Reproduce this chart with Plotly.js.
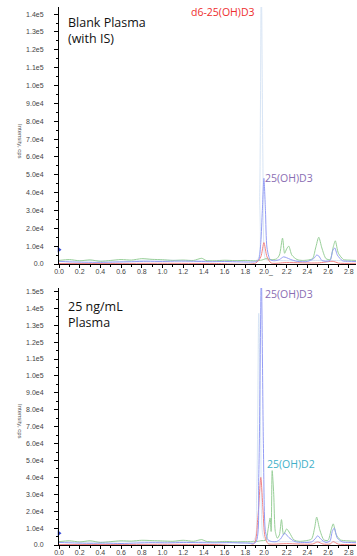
<!DOCTYPE html>
<html><head><meta charset="utf-8">
<script src="https://cdn.plot.ly/plotly-3.0.1.min.js"></script>
<style>html,body{margin:0;padding:0;background:#fff}#c{width:357px;height:556px}</style>
</head><body><div id="c"></div>
<script>
// ---- tick labels ----
const xTickVals = [0,0.2,0.4,0.6,0.8,1.0,1.2,1.4,1.6,1.8,2.0,2.2,2.4,2.6,2.8];
const xTickText = ["0.0","0.2","0.4","0.6","0.8","1.0","1.2","1.4","1.6","1.8","2.0_","2.2","2.4","2.6","2.8"];
const yTickValsTop = [0,1e4,2e4,3e4,4e4,5e4,6e4,7e4,8e4,9e4,1e5,1.1e5,1.2e5,1.3e5,1.4e5];
const yTickTextTop = ["0.0","1.0e4","2.0e4","3.0e4","4.0e4","5.0e4","6.0e4","7.0e4","8.0e4","9.0e4","1.0e5","1.1e5","1.2e5","1.3e5","1.4e5"];
const yTickValsBot = [0,1e4,2e4,3e4,4e4,5e4,6e4,7e4,8e4,9e4,1e5,1.1e5,1.2e5,1.3e5,1.4e5,1.5e5];
const yTickTextBot = ["0.0","1.0e4","2.0e4","3.0e4","4.0e4","5.0e4","6.0e4","7.0e4","8.0e4","9.0e4","1.0e5","1.1e5","1.2e5","1.3e5","1.4e5","1.5e5"];

// ---- top panel: Blank Plasma (with IS) ----
const topPaleX = [0,0.3,0.6,0.9,1.2,1.5,1.8,1.92,1.94,1.955,1.97,1.985,2.0,2.1,2.3,2.5,2.7,2.87];
const topPaleY = [1500,2000,1500,2200,2000,1800,2000,2500,40000,160000,60000,5000,2500,2000,1800,2000,1900,1800];
const topBlueX = [0,0.1,0.25,0.4,0.55,0.7,0.85,1.0,1.15,1.3,1.45,1.6,1.75,1.9,1.93,1.95,1.965,1.98,1.995,2.01,2.04,2.08,2.13,2.17,2.2,2.24,2.3,2.4,2.46,2.49,2.51,2.54,2.58,2.62,2.645,2.665,2.69,2.74,2.8,2.87];
const topBlueY = [1500,1200,1000,900,1100,1300,1500,1400,1600,1500,1300,1400,1200,1300,2500,12000,30000,48000,30000,9000,2500,1800,2500,4000,3500,2500,1500,1400,3000,5000,4500,2000,1500,2000,7500,9000,5000,1800,1500,1400];
const topRedX = [0,0.5,1.0,1.5,1.9,1.95,1.98,2.01,2.05,2.2,2.5,2.65,2.7,2.87];
const topRedY = [300,300,400,300,500,4000,12000,4000,600,800,600,1500,500,400];
const topGreenX = [0,0.1,0.2,0.3,0.4,0.5,0.6,0.7,0.8,0.9,1.0,1.1,1.2,1.3,1.38,1.42,1.5,1.6,1.7,1.8,1.9,1.96,2.0,2.05,2.1,2.13,2.16,2.18,2.2,2.22,2.25,2.3,2.35,2.4,2.45,2.48,2.51,2.54,2.58,2.62,2.65,2.67,2.7,2.75,2.8,2.87];
const topGreenY = [2000,2500,1800,2300,1500,2000,2500,2200,3000,2600,2400,2000,2200,2000,3200,2000,1800,2100,1900,2000,1800,2200,3000,2500,2800,5000,14500,6000,8500,10000,5000,2500,2000,2200,3000,9000,15000,9000,3000,2500,9500,13000,6000,2500,2200,2000];

// ---- bottom panel: 25 ng/mL Plasma ----
const botPaleX = [0,0.4,0.8,1.2,1.6,1.88,1.91,1.93,1.95,1.97,2.0,2.2,2.5,2.87];
const botPaleY = [2000,1800,2200,2000,1800,2500,30000,137000,60000,6000,2500,2000,2000,1800];
const botBlueX = [0,0.15,0.3,0.45,0.6,0.75,0.9,1.05,1.2,1.35,1.5,1.65,1.8,1.9,1.93,1.955,1.975,1.995,2.02,2.06,2.1,2.14,2.18,2.22,2.28,2.35,2.44,2.48,2.5,2.53,2.58,2.62,2.64,2.66,2.69,2.74,2.8,2.87];
const botBlueY = [1500,1200,1000,1100,900,1200,1400,1300,1500,1400,1300,1400,1200,1500,40000,160000,60000,8000,3000,2000,2000,3500,7000,4500,2000,1500,1800,4000,5500,3500,1500,2500,8000,10000,4000,1800,1500,1400];
const botRedX = [0,0.5,1.0,1.5,1.88,1.92,1.95,1.97,1.99,2.02,2.06,2.2,2.45,2.5,2.55,2.62,2.65,2.7,2.87];
const botRedY = [300,300,400,300,500,15000,40000,22000,5000,800,500,800,600,1800,600,600,2000,500,400];
const botGreenX = [0,0.1,0.2,0.3,0.4,0.5,0.6,0.7,0.8,0.9,1.0,1.1,1.2,1.3,1.38,1.42,1.5,1.6,1.7,1.8,1.9,1.95,2.0,2.02,2.04,2.05,2.06,2.075,2.09,2.11,2.13,2.15,2.17,2.2,2.23,2.27,2.32,2.38,2.44,2.47,2.49,2.52,2.56,2.6,2.63,2.65,2.68,2.72,2.78,2.87];
const botGreenY = [2000,2500,1800,2500,1500,2000,2500,2300,2800,2600,2400,2200,2800,2200,3200,2200,1800,2100,1900,2000,2000,2500,3000,9000,16000,8000,44000,30000,8000,4000,6000,15000,6000,9500,7000,3000,2200,2500,3500,10000,16500,9000,3000,2800,9000,12500,6000,3000,2500,2200];

// start-of-trace markers
const markerX = [0];
const markerYTop = [8000];
const markerYBot = [7000];

const C = {pale:"#d8e5f5", blue:"#949df5", red:"#f38484", green:"#98cf98"};
function tr(x,y,col,ax,w){return {x:x,y:y,type:"scatter",mode:"lines",line:{color:col,width:w||1,shape:"spline",smoothing:0.7},xaxis:ax==1?"x":"x2",yaxis:ax==1?"y":"y2",hoverinfo:"skip"};}
const data = [
  tr(topPaleX,topPaleY,C.pale,1), tr(topGreenX,topGreenY,C.green,1), tr(topRedX,topRedY,C.red,1), tr(topBlueX,topBlueY,C.blue,1),
  tr(botPaleX,botPaleY,C.pale,2), tr(botGreenX,botGreenY,C.green,2), tr(botRedX,botRedY,C.red,2), tr(botBlueX,botBlueY,C.blue,2),
  {x:markerX,y:markerYTop,type:"scatter",mode:"markers",marker:{symbol:"triangle-right",size:5,color:"#3347d6"},xaxis:"x",yaxis:"y",cliponaxis:false},
  {x:markerX,y:markerYBot,type:"scatter",mode:"markers",marker:{symbol:"triangle-right",size:5,color:"#3347d6"},xaxis:"x2",yaxis:"y2",cliponaxis:false}
];

const W=357,H=556;
const px=v=>v/W, py=v=>1-v/H;
const tickFont={family:"Liberation Sans, Arial, sans-serif",size:7,color:"#444"};
function xa(anchor){return {domain:[px(59),px(356)],range:[0,2.87],anchor:anchor,showline:true,linecolor:"#000",linewidth:1,
  ticks:"outside",ticklen:3,tickcolor:"#000",tickvals:xTickVals,ticktext:xTickText,tickfont:tickFont,ticklabelstandoff:-2,showgrid:false,zeroline:false,
  minor:{tickvals:[0.1,0.3,0.5,0.7,0.9,1.1,1.3,1.5,1.7,1.9,2.1,2.3,2.5,2.7],ticklen:2,tickcolor:"#000",ticks:"outside"},automargin:false,fixedrange:true};}
function ya(anchor,dom,rng,tv,tt){return {domain:dom,range:rng,anchor:anchor,showline:true,linecolor:"#000",linewidth:1,
  ticks:"outside",ticklen:4,tickcolor:"#000",tickvals:tv,ticktext:tt,tickfont:tickFont,ticklabelstandoff:9,showgrid:false,zeroline:false,
  minor:{dtick:5000,ticklen:2,tickcolor:"#000",ticks:"outside"},automargin:false,fixedrange:true};}

const annFont="Open Sans, Noto Sans, sans-serif";
const layout = {
  width:W,height:H,margin:{l:0,r:0,t:0,b:0},paper_bgcolor:"#fff",plot_bgcolor:"#fff",showlegend:false,
  xaxis:xa("y"), yaxis:ya("x",[py(264),py(7)],[0,144000],yTickValsTop,yTickTextTop),
  xaxis2:xa("y2"), yaxis2:ya("x2",[py(545),py(288)],[0,152000],yTickValsBot,yTickTextBot),
  annotations:[
    {xref:"paper",yref:"paper",x:px(66),y:py(12),xanchor:"left",yanchor:"top",align:"left",showarrow:false,text:"Blank Plasma<br>(with IS)",font:{family:annFont,size:12.5,color:"#111"}},
    {xref:"paper",yref:"paper",x:px(189),y:py(12),xanchor:"left",yanchor:"middle",showarrow:false,text:"d6-25(OH)D3",font:{family:annFont,size:10.5,color:"#ee2e2e"}},
    {xref:"paper",yref:"paper",x:px(263),y:py(178),xanchor:"left",yanchor:"middle",showarrow:false,text:"25(OH)D3",font:{family:annFont,size:10.5,color:"#8a6db3"}},
    {xref:"paper",yref:"paper",x:px(66),y:py(296),xanchor:"left",yanchor:"top",align:"left",showarrow:false,text:"25 ng/mL<br>Plasma",font:{family:annFont,size:12.5,color:"#111"}},
    {xref:"paper",yref:"paper",x:px(263),y:py(294),xanchor:"left",yanchor:"middle",showarrow:false,text:"25(OH)D3",font:{family:annFont,size:10.5,color:"#8a6db3"}},
    {xref:"paper",yref:"paper",x:px(265),y:py(464),xanchor:"left",yanchor:"middle",showarrow:false,text:"25(OH)D2",font:{family:annFont,size:10.5,color:"#3fb0c9"}},
    {xref:"paper",yref:"paper",x:px(20),y:py(141),xanchor:"center",yanchor:"middle",showarrow:false,textangle:90,text:"Intensity, cps",font:{family:"Liberation Sans, Arial, sans-serif",size:6,color:"#555"}},
    {xref:"paper",yref:"paper",x:px(20),y:py(421),xanchor:"center",yanchor:"middle",showarrow:false,textangle:90,text:"Intensity, cps",font:{family:"Liberation Sans, Arial, sans-serif",size:6,color:"#555"}}
  ]
};
Plotly.newPlot("c",data,layout,{displayModeBar:false,staticPlot:true});
</script></body></html>
